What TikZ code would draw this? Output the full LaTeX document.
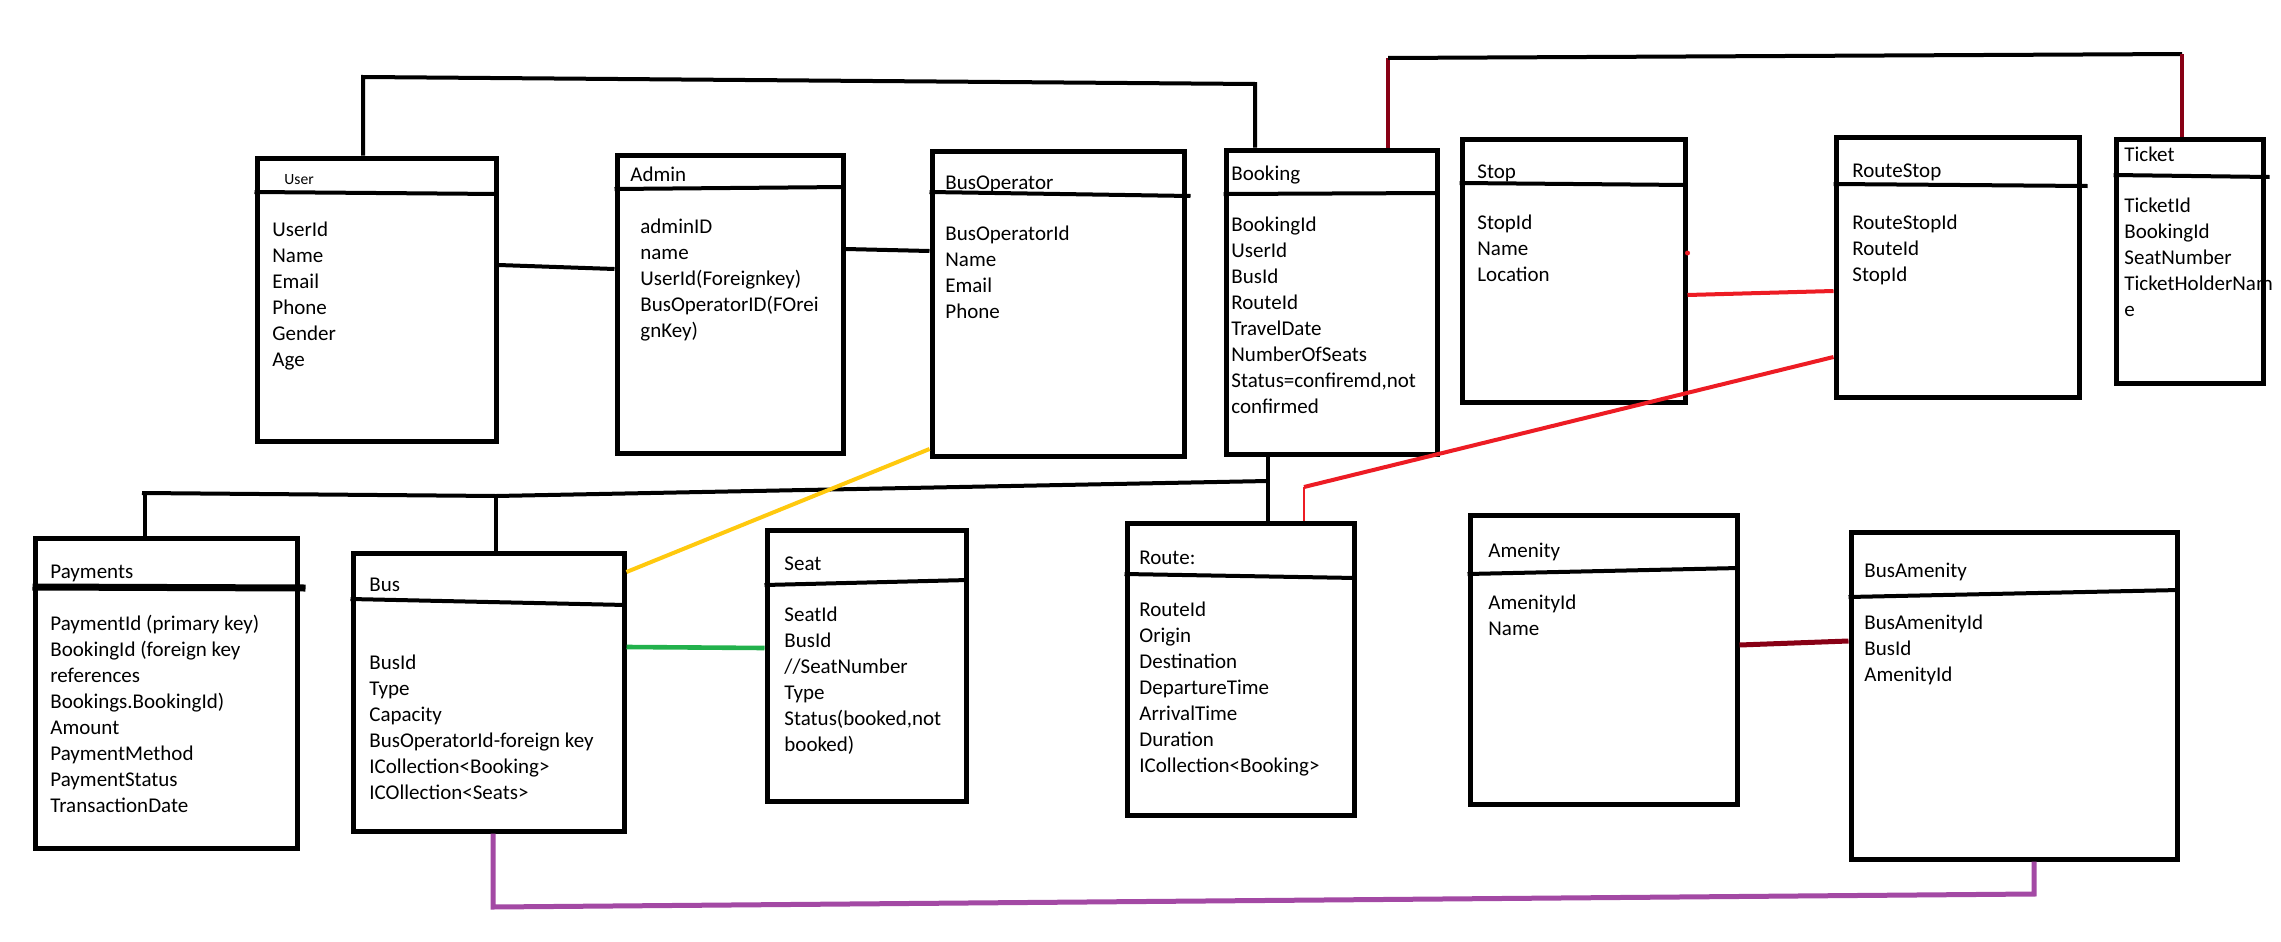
\documentclass[tikz,border=0pt]{standalone}
\usepackage{fontspec}
\setmainfont{Carlito}
\usetikzlibrary{fit}

% Paint-style palette for the relation lines
\definecolor{pred}{HTML}{ED1C24}
\definecolor{pdarkred}{HTML}{880015}
\definecolor{pgold}{HTML}{FFC90E}
\definecolor{pgreen}{HTML}{22B14C}
\definecolor{ppurple}{HTML}{A349A4}

\tikzset{
  entitybox/.style={draw, line width=2.5pt, inner sep=0pt, rectangle},
  hdr/.style={line width=2pt},
  fld/.style={anchor=base west, inner sep=0pt, font=\fontsize{10.5}{13}\selectfont},
  ttl/.style={fld},
  link/.style={line width=2pt},
}

% entity table: name, top-left corner, bottom-right corner
\newcommand\entity[5]{%
  \node[entitybox, fit={(#2,#3) (#4,#5)}] (#1) {};
}
% attribute lines: name, x, centre of first line, list of attributes
\newcommand\fieldlist[4]{%
  \foreach \ftext [count=\i] in {#4}
    \node[fld] (#1-f\i) at (#2,{#3+7+26*(\i-1)}) {\ftext};
}

\begin{document}
\begin{tikzpicture}[x=0.5pt, y=-0.5pt]
\fill[white] (0,0) rectangle (2281,942);
\useasboundingbox (0,0) rectangle (2281,942);

% ---------- upper row ----------
\entity{user}{257}{158}{496}{441}
\draw[hdr] (user.west |- 0,192) -- (user.east |- 0,194);
\node[ttl, font=\fontsize{7.8}{9}\selectfont] (user-t) at (284,184) {User};
\fieldlist{user}{272}{229}{UserId, Name, Email, Phone, Gender, Age}

\entity{admin}{617}{155}{843}{453}
\draw[hdr] (admin.west |- 0,189) -- (admin.east |- 0,187);
\node[ttl] (admin-t) at (630,181) {Admin};
\fieldlist{admin}{640}{226}{adminID, name, UserId(Foreignkey), BusOperatorID(FOrei, gnKey)}

\entity{busop}{932}{151}{1184}{456}
\draw[hdr] (busop.west |- 0,192) -- ([xshift=2pt]busop.east |- 0,196);
\node[ttl] (busop-t) at (945,189) {BusOperator};
\fieldlist{busop}{945}{233}{BusOperatorId, Name, Email, Phone}

\entity{booking}{1226}{150}{1437}{454}
\draw[hdr] (booking.west |- 0,194) -- (booking.east |- 0,193);
\node[ttl] (booking-t) at (1231,180) {Booking};
\fieldlist{booking}{1231}{224}{BookingId, UserId, BusId, RouteId, TravelDate, NumberOfSeats, {Status=confiremd,not}, confirmed}

\entity{stop}{1462}{139}{1685}{402}
\draw[hdr] (stop.west |- 0,183) -- (stop.east |- 0,185);
\node[ttl] (stop-t) at (1477,178) {Stop};
\fieldlist{stop}{1477}{222}{StopId, Name, Location}

\entity{routestop}{1836}{137}{2079}{397}
\draw[hdr] (routestop.west |- 0,184) -- ([xshift=3pt]routestop.east |- 0,186);
\node[ttl] (routestop-t) at (1852,177) {RouteStop};
\fieldlist{routestop}{1852}{222}{RouteStopId, RouteId, StopId}

\entity{ticket}{2116}{139}{2263}{383}
\draw[hdr] (ticket.west |- 0,175) -- ([xshift=2pt]ticket.east |- 0,177);
\node[ttl] (ticket-t) at (2124,161) {Ticket};
\fieldlist{ticket}{2124}{205}{TicketId, BookingId, SeatNumber, TicketHolderNam, e}

% ---------- lower row ----------
\entity{payments}{35}{538}{297}{848}
\draw[line width=3.5pt] (payments.west |- 0,587) -- ([xshift=3pt]payments.east |- 0,588);
\node[ttl] (payments-t) at (50,578) {Payments};
\fieldlist{payments}{50}{623}{PaymentId (primary key), BookingId (foreign key, references, Bookings.BookingId), Amount, PaymentMethod, PaymentStatus, TransactionDate}

\entity{bus}{353}{553}{624}{831}
\draw[hdr] (bus.west |- 0,599) -- (bus.east |- 0,605);
\node[ttl] (bus-t) at (369,591) {Bus};
\fieldlist{bus}{369}{662}{BusId, Type, Capacity, BusOperatorId-foreign key, ICollection<Booking>, ICOllection<Seats>}

\entity{seat}{767}{530}{966}{801}
\draw[hdr] (seat.west |- 0,585) -- (seat.east |- 0,580);
\node[ttl] (seat-t) at (784,570) {Seat};
\fieldlist{seat}{784}{614}{SeatId, BusId, //SeatNumber, Type, {Status(booked,not}, booked)}

\entity{route}{1127}{523}{1354}{815}
\draw[hdr] (route.west |- 0,574) -- (route.east |- 0,578);
\node[ttl] (route-t) at (1139,564) {Route:};
\fieldlist{route}{1139}{609}{RouteId, Origin, Destination, DepartureTime, ArrivalTime, Duration, ICollection<Booking>}

\entity{amenity}{1470}{515}{1737}{804}
\draw[hdr] (amenity.west |- 0,574) -- (amenity.east |- 0,568);
\node[ttl] (amenity-t) at (1488,557) {Amenity};
\fieldlist{amenity}{1488}{602}{AmenityId, Name}

\entity{busamenity}{1851}{532}{2177}{859}
\draw[hdr] (busamenity.west |- 0,597) -- (busamenity.east |- 0,590);
\node[ttl] (busamenity-t) at (1864,577) {BusAmenity};
\fieldlist{busamenity}{1864}{622}{BusAmenityId, BusId, AmenityId}

% ---------- relations ----------
% User -- Booking over the top
\draw[link] (user.north -| 363,0) -- (363,77) -- (1255,84) -- (booking.north -| 1255,0);
\draw[link] (user.east |- 0,265) -- (admin.west |- 0,269);
\draw[link] (admin.east |- 0,249) -- (busop.west |- 0,251);

% Booking -- Ticket
\draw[link, pdarkred, line width=1.6pt] (booking.north -| 1388,0) -- (1388,58) coordinate (bt1);
\draw[link] (bt1) -- (2182,54) coordinate (bt2);
\draw[link, pdarkred, line width=1.6pt] (bt2) -- (ticket.north -| 2182,0);

% Stop -- RouteStop
\draw[link, pred] (stop.east |- 0,295) -- (routestop.west |- 0,291);
\fill[pred] (stop.east |- 0,253) circle (2.5);

% Route -- RouteStop
\draw[link, pred, line width=1.4pt] (route.north -| 1304,0) -- (1304,487) coordinate (rr1);
\draw[link, pred] (rr1) -- (routestop.west |- 0,357);

% Booking -- Route and the bus/payments branch
\draw[link, line width=1.6pt] (booking.south -| 1268,0) -- (route.north -| 1268,0);
\coordinate (jn) at (1268,481);
\draw[link] (142,493) coordinate (jl) -- (496,496) coordinate (jb) -- (jn);
\draw[link] (payments.north -| 145,0) -- (jl -| 145,0);
\draw[link, line width=1.6pt] (bus.north -| 496,0) -- (jb);

% Bus relations
\draw[link, pgold] (bus.east |- 0,572) -- (busop.west |- 0,449);
\draw[link, pgreen, line width=2.3pt] (bus.east |- 0,647) -- (seat.west |- 0,648);
\draw[link, pdarkred, line width=2.5pt] (amenity.east |- 0,645) -- (busamenity.west |- 0,641);
\draw[link, ppurple, line width=2.5pt] (bus.south -| 493,0) -- (493,907) -- (2034,894) -- (busamenity.south -| 2034,0);
\end{tikzpicture}
\end{document}
